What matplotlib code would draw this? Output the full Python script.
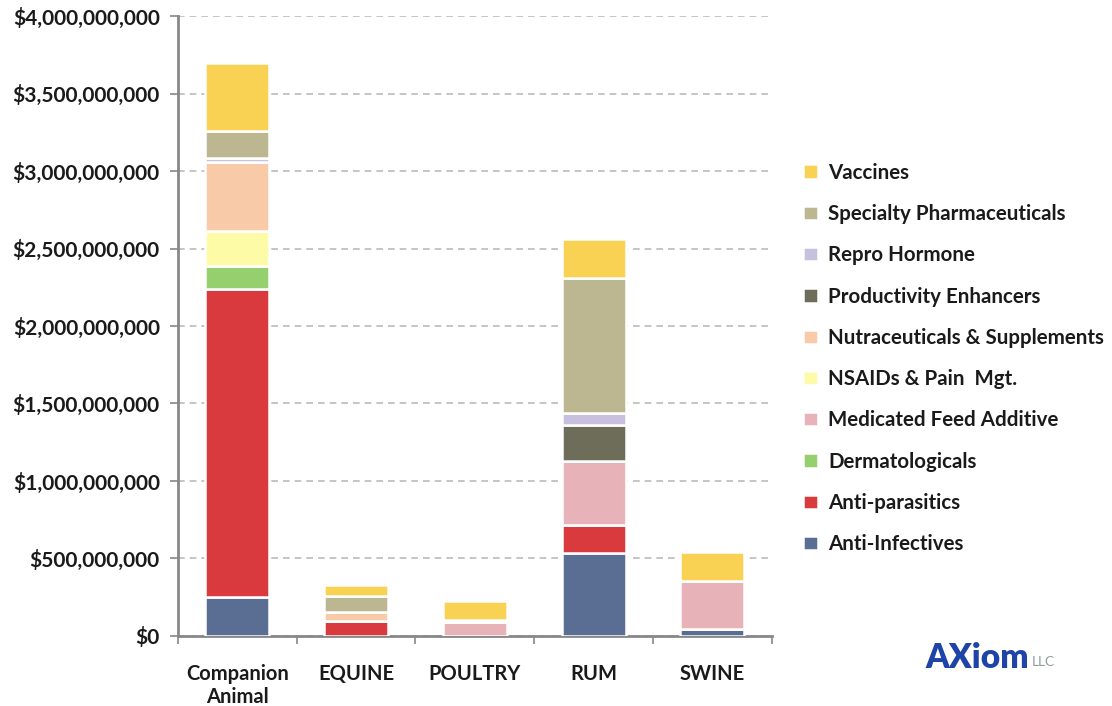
import matplotlib
matplotlib.use("Agg")
import matplotlib.pyplot as plt
import matplotlib.ticker as mticker
import numpy as np

categories = ["Companion\nAnimal", "EQUINE", "POULTRY", "RUM", "SWINE"]

# values in billions of dollars, stacked bottom -> top
series_names = [
    "Anti-Infectives", "Anti-parasitics", "Dermatologicals",
    "Medicated Feed Additive", "NSAIDs & Pain  Mgt.", "Nutraceuticals & Supplements",
    "Productivity Enhancers", "Repro Hormone", "Specialty Pharmaceuticals", "Vaccines",
]
anti_infectives = [0.250, 0.000, 0.000, 0.534, 0.045]
anti_parasitics = [1.989, 0.095, 0.000, 0.184, 0.000]
dermatologicals = [0.148, 0.000, 0.000, 0.000, 0.000]
medicated_feed = [0.000, 0.000, 0.091, 0.414, 0.308]
nsaids = [0.226, 0.000, 0.015, 0.000, 0.000]
nutraceuticals = [0.442, 0.060, 0.000, 0.000, 0.000]
productivity = [0.000, 0.000, 0.000, 0.229, 0.000]
repro_hormone = [0.026, 0.000, 0.000, 0.078, 0.000]
specialty = [0.174, 0.103, 0.000, 0.871, 0.000]
vaccines = [0.444, 0.071, 0.118, 0.249, 0.191]

series_values = [anti_infectives, anti_parasitics, dermatologicals, medicated_feed,
                 nsaids, nutraceuticals, productivity, repro_hormone, specialty, vaccines]
colors = ["#5a6d92", "#d93a3e", "#95cf6e", "#e8b3b8", "#fdfba6",
          "#f9caa8", "#6d6d5a", "#c7c1de", "#bcb791", "#f9d254"]

ytick_vals = [0, 0.5, 1.0, 1.5, 2.0, 2.5, 3.0, 3.5, 4.0]

plt.rcParams['font.family'] = ['Lato', 'DejaVu Sans']

fig = plt.figure(figsize=(11.12, 7.06), dpi=100)
ax = fig.add_axes([0.16, 0.0992, 0.534, 0.8781])

x = np.arange(len(categories))
bottom = np.zeros(len(categories))
handles = []
for name, vals, col in zip(series_names, series_values, colors):
    v = np.array(vals) * 1e9
    b = ax.bar(x, v, width=0.54, bottom=bottom, color=col, edgecolor="white",
               linewidth=1.8, label=name, zorder=3)
    handles.append(b)
    bottom += v

ax.set_xlim(-0.5, len(categories) - 0.5)
ax.set_ylim(0, 4e9)
ax.set_yticks([v * 1e9 for v in ytick_vals])
ax.yaxis.set_major_formatter(mticker.FuncFormatter(lambda v, p: "${:,.0f}".format(v)))
ax.set_xticks(x)
ax.set_xticklabels(categories)
ax.set_xticks(np.arange(-0.5, len(categories)), minor=True)
ax.tick_params(axis='x', which='major', length=0, pad=20, labelsize=14.5, labelcolor="#1a1a1a")
ax.tick_params(axis='x', which='minor', length=6, color="#888888", width=1.2)
ax.tick_params(axis='y', length=6, color="#888888", width=1.2, labelsize=15,
               labelcolor="#1a1a1a", pad=7)
for lab in ax.get_yticklabels():
    lab.set_fontweight('bold')
for lab in ax.get_xticklabels():
    lab.set_fontweight('bold')

ax.grid(axis='y', color="#bbbbbb", linestyle=(0, (4, 3)), linewidth=1.2, zorder=0)
for s in ["top", "right"]:
    ax.spines[s].set_visible(False)
for s in ["left", "bottom"]:
    ax.spines[s].set_color("#888888")
    ax.spines[s].set_linewidth(2)

leg = fig.legend(handles[::-1], series_names[::-1], loc="upper left",
                 bbox_to_anchor=(0.715, 0.781), frameon=False, fontsize=14.8,
                 handlelength=0.7, handleheight=0.7, handletextpad=0.5,
                 labelspacing=1.035, borderaxespad=0)
for t in leg.get_texts():
    t.set_fontweight('bold')
    t.set_color("#1a1a1a")

# logo
fig.text(0.832, 0.068, "AXiom", fontsize=24, fontweight='heavy', color="#1e44a8",
         ha='left', va='center')
fig.text(0.928, 0.062, "LLC", fontsize=10, color="#8aa09a", ha='left', va='center')

fig.savefig("out.png", dpi=100)
